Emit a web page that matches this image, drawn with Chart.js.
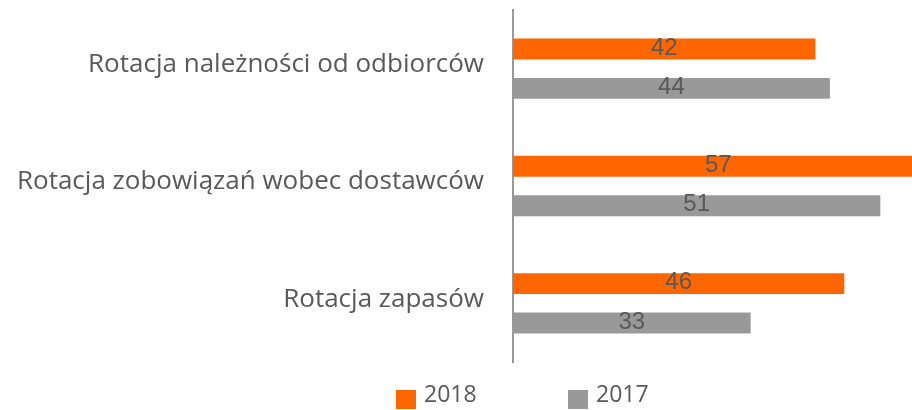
<!DOCTYPE html>
<html>
<head>
<meta charset="utf-8">
<script src="https://cdn.jsdelivr.net/npm/chart.js@4"></script>
<style>
  html, body { margin: 0; padding: 0; background: #fff; }
  #wrap { width: 912px; height: 410px; }
</style>
</head>
<body>
<div id="wrap"><canvas id="myChart"></canvas></div>
<script>
// data
const categories = [
    'Rotacja należności od odbiorców',
    'Rotacja zobowiązań wobec dostawców',
    'Rotacja zapasów'
];
const seriesNames = ['2018', '2017'];
const values2018 = [42, 57, 46];
const values2017 = [44, 51, 33];

const ORANGE = '#ff6600';
const GREY = '#999999';
const TEXT = '#595959';

// value labels drawn in the middle of each bar
const valueLabels = {
    id: 'valueLabels',
    afterDatasetsDraw(chart) {
        const ctx = chart.ctx;
        ctx.save();
        ctx.font = '24px "Liberation Sans", Arial, sans-serif';
        ctx.fillStyle = TEXT;
        ctx.textAlign = 'center';
        ctx.textBaseline = 'middle';
        chart.data.datasets.forEach((ds, i) => {
            chart.getDatasetMeta(i).data.forEach((bar, j) => {
                const x = (bar.base + bar.x) / 2;
                ctx.fillText(ds.data[j], x, bar.y - 1);
            });
        });
        ctx.restore();
    }
};

// legend drawn under the plot, items spread wide like the original
const wideLegend = {
    id: 'wideLegend',
    afterDraw(chart) {
        const ctx = chart.ctx;
        const left = chart.chartArea.left;
        const starts = [left - 117, left + 55];
        ctx.save();
        ctx.font = '23px "Open Sans", sans-serif';
        ctx.textBaseline = 'alphabetic';
        ctx.textAlign = 'left';
        chart.data.datasets.forEach((ds, i) => {
            const x = starts[i];
            ctx.fillStyle = ds.backgroundColor;
            ctx.fillRect(x, 390, 20, 19);
            ctx.fillStyle = TEXT;
            ctx.fillText(ds.label, x + 28, 402);
        });
        ctx.restore();
    }
};

const config = {
    type: 'bar',
    data: {
        labels: categories,
        datasets: [
            { label: seriesNames[0], data: values2018, backgroundColor: ORANGE },
            { label: seriesNames[1], data: values2017, backgroundColor: GREY }
        ]
    },
    options: {
        indexAxis: 'y',
        responsive: true,
        maintainAspectRatio: false,
        animation: false,
        layout: { padding: { top: 10, bottom: 48, right: 0, left: 0 } },
        datasets: {
            bar: { categoryPercentage: 0.673, barPercentage: 0.53 }
        },
        scales: {
            x: {
                display: false,
                min: 0,
                max: 55.4
            },
            y: {
                grid: { display: false, drawTicks: false },
                border: { display: true, color: '#999999', width: 2 },
                ticks: {
                    color: TEXT,
                    padding: 29,
                    labelOffset: -4,
                    font: { family: '"Open Sans", sans-serif', size: 26 }
                },
                afterFit(scale) {
                    scale.width = 513;
                    scale.paddingTop = 0;
                    scale.paddingBottom = 0;
                }
            }
        },
        plugins: {
            legend: { display: false },
            tooltip: { enabled: false }
        }
    },
    plugins: [valueLabels, wideLegend]
};

const myChart = new Chart(document.getElementById('myChart'), config);
</script>
</body>
</html>
